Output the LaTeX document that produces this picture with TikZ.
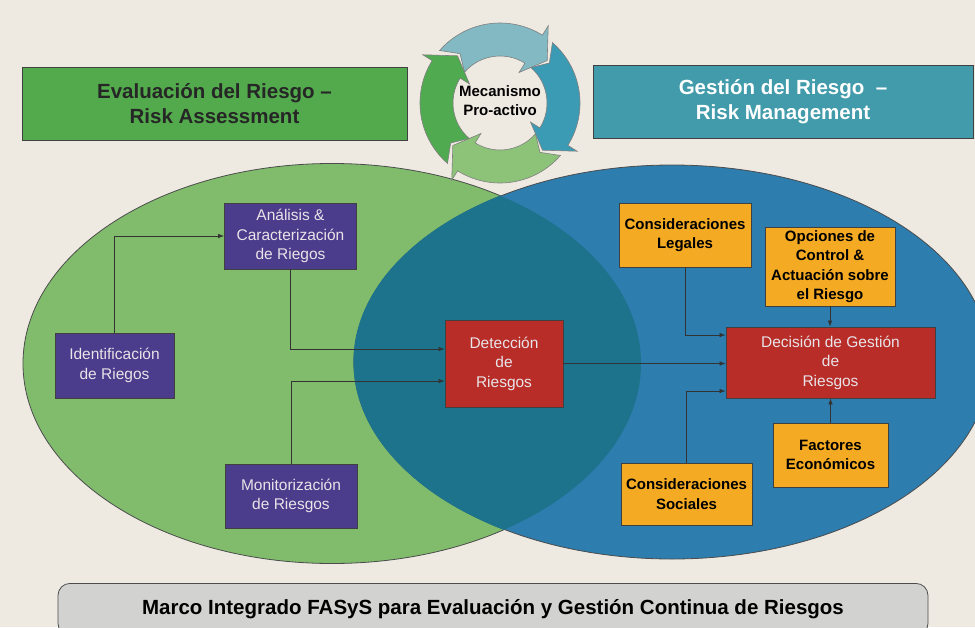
\documentclass[tikz,border=0pt]{standalone}
\usepackage{fontspec}
\setmainfont{Liberation Sans}
\usetikzlibrary{arrows.meta,positioning}
\definecolor{fondo}{HTML}{EEEAE2}
\definecolor{verdeel}{HTML}{80BC6C}
\definecolor{azulel}{HTML}{2D7DAF}
\definecolor{solape}{HTML}{1E738C}
\definecolor{verdehd}{HTML}{52AA4C}
\definecolor{tealhd}{HTML}{419BAA}
\definecolor{morado}{HTML}{4B3C8C}
\definecolor{rojo}{HTML}{B82D28}
\definecolor{naranja}{HTML}{F4AA23}
\definecolor{gris}{HTML}{D2D2D0}
\definecolor{claro}{HTML}{E8E4E8}
\definecolor{cicA}{HTML}{82B9C3}
\definecolor{cicB}{HTML}{3C9BB4}
\definecolor{cicC}{HTML}{8CC378}
\definecolor{cicD}{HTML}{50AA50}
\tikzset{
  caja/.style={draw=black!75, line width=0.8pt, align=center, inner sep=1pt},
  morada/.style={caja, fill=morado, text=claro, font=\fontsize{15.5}{19.5}\selectfont},
  roja/.style={caja, fill=rojo, text=claro, font=\fontsize{15.5}{19.5}\selectfont},
  amarilla/.style={caja, fill=naranja, text=black, font=\bfseries\fontsize{15}{19.5}\selectfont},
  cabecera/.style={caja, minimum height=73, font=\bfseries\fontsize{20.5}{25}\selectfont},
  flecha/.style={draw=black!80, line width=0.7pt, -{Latex[length=6pt,width=4.5pt]}},
}
% #1 cola, #2 punta, #3 color
\newcommand{\flechaciclo}[3]{%
  \pgfmathsetmacro{\angbase}{#2-16}%
  \pgfmathsetmacro{\angmuesca}{#1+10}%
  \filldraw[fill=#3, draw=black!50, line width=0.6pt]
    (#1:80) arc[start angle=#1, end angle=\angbase, radius=80]
    -- (\angbase:91) -- (#2:63.5) -- (\angbase:36)
    -- (\angbase:47) arc[start angle=\angbase, end angle=#1, radius=47]
    -- (\angmuesca:63.5) -- cycle;}
\begin{document}
\begin{tikzpicture}[x=1pt, y=-1pt]
		\useasboundingbox (0,0) rectangle (975,627);
		\clip (0,0) rectangle (975,627);
		\fill[fondo] (0,0) rectangle (975,627);
		%
		\filldraw[fill=verdeel, draw=black!70, line width=0.8pt] (332,363.5) ellipse [x radius=309, y radius=200];
		\filldraw[fill=azulel, draw=black!70, line width=0.8pt] (672,362) ellipse [x radius=318, y radius=197];
		\begin{scope}
		\clip (332,363.5) ellipse [x radius=309, y radius=200];
		\filldraw[fill=solape, draw=solape, line width=1.2pt] (672,362) ellipse [x radius=318, y radius=197];
		\end{scope}
		%
		\node[cabecera, fill=verdehd, text=black!85, minimum width=385] (evalhd) at (214.5,103.5) {Evaluación del Riesgo –\\Risk Assessment};
		\node[cabecera, fill=tealhd, text=white, minimum width=380] (gesthd) at (783,101.5) {Gestión del Riesgo~ –\\Risk Management};
		%
		\begin{scope}[shift={(500,103)}]
		\flechaciclo{221}{318}{cicA}
		\flechaciclo{311}{408}{cicB}
		\flechaciclo{41}{138}{cicC}
		\flechaciclo{131}{228}{cicD}
		\end{scope}
		\node[align=center, font=\bfseries\fontsize{15}{19}\selectfont] (ciclo) at (500,101) {Mecanismo\\Pro-activo};
		%
		\node[morada, minimum width=132, minimum height=66] (anal) at (290.5,236) {Análisis \&\\Caracterización\\de Riegos};
		\node[morada, minimum width=119, minimum height=65] (ident) at (114.5,365.5) {Identificación\\de Riegos};
		\node[morada, minimum width=132, minimum height=64] (monit) at (291,496) {Monitorización\\de Riesgos};
		\node[roja, minimum width=118, minimum height=87] (detec) at (504,363.5) {Detección\\de\\Riesgos};
		\node[roja, minimum width=209, minimum height=71] (decis) at (830.5,362.5) {Decisión de Gestión\\de\\Riesgos};
		\node[amarilla, minimum width=132, minimum height=64] (legal) at (685,235) {Consideraciones\\Legales};
		\node[amarilla, minimum width=130, minimum height=79] (opcion) at (830,266.5) {Opciones de\\Control \&\\Actuación sobre\\el Riesgo};
		\node[amarilla, minimum width=115, minimum height=64] (factor) at (830.5,455) {Factores\\Económicos};
		\node[amarilla, minimum width=131, minimum height=62] (social) at (686.5,494) {Consideraciones\\Sociales};
		%
		\draw[flecha] (ident.north) |- (anal.west);
		\draw[flecha] (anal.south) |- ([yshift=14.5pt]detec.west);
		\draw[flecha] (monit.north) |- ([yshift=-17.5pt]detec.west);
		\draw[flecha] (detec.east) -- (detec.east -| decis.west);
		\draw[flecha] (legal.south) |- ([yshift=27.5pt]decis.west);
		\draw[flecha] (social.north) |- ([yshift=-28.5pt]decis.west);
		\draw[flecha] (opcion.south) -- (opcion.south |- decis.north);
		\draw[flecha] (factor.north) -- (factor.north |- decis.south);
		%
		\node[draw=black!70, line width=0.8pt, fill=gris, rounded corners=12, minimum width=870, minimum height=52, anchor=north, font=\bfseries\fontsize{20.5}{24}\selectfont] (marco) at (493,583) {Marco Integrado FASyS para Evaluación y Gestión Continua de Riesgos};
\end{tikzpicture}
\end{document}
